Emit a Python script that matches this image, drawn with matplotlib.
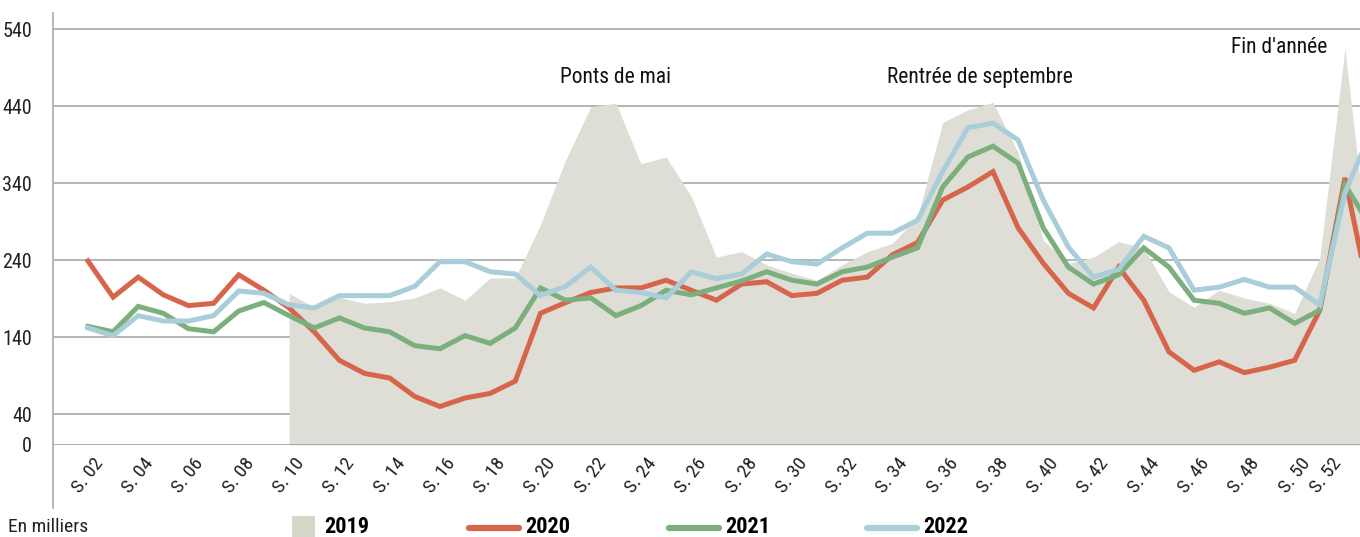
import numpy as np
import matplotlib
matplotlib.use("Agg")
import matplotlib.pyplot as plt
from matplotlib.lines import Line2D
from matplotlib.patches import Rectangle

plt.rcParams['font.family'] = ['Roboto Condensed', 'Liberation Sans Narrow', 'Roboto', 'DejaVu Sans']

# weekly volumes, in thousands
weeks = list(range(2, 54))
weeks_2019 = list(range(10, 54))

v2019 = [197, 179, 192, 184, 186, 191, 204, 188, 217, 217, 286, 370, 439, 444, 365, 374,
         323, 244, 251, 234, 223, 214, 234, 251, 262, 296, 419, 435, 445, 380, 266, 236,
         244, 264, 256, 199, 179, 201, 191, 184, 171, 243, 515, 232]
v2020 = [239, 192, 218, 195, 181, 184, 221, 201, 178, 147, 110, 93, 87, 63, 50, 61,
         67, 83, 171, 185, 198, 204, 204, 214, 201, 188, 209, 212, 194, 197, 214, 218,
         247, 263, 318, 335, 355, 282, 236, 197, 178, 231, 188, 121, 97, 108, 94, 101,
         110, 175, 347, 190]
v2021 = [154, 147, 180, 171, 151, 147, 174, 185, 168, 152, 165, 152, 147, 129, 125, 142,
         132, 152, 204, 188, 191, 168, 181, 201, 195, 204, 213, 225, 214, 209, 225, 231,
         244, 256, 335, 374, 388, 366, 282, 231, 209, 221, 256, 231, 188, 184, 171, 178,
         158, 175, 338, 285]
v2022 = [152, 142, 168, 161, 161, 168, 200, 197, 182, 178, 194, 194, 194, 206, 238, 238,
         225, 222, 194, 206, 231, 201, 198, 191, 225, 216, 222, 248, 238, 235, 256, 275,
         275, 292, 355, 412, 418, 396, 318, 257, 218, 228, 271, 256, 201, 205, 215, 205,
         205, 182, 327, 404]

xtick_weeks = list(range(2, 53, 2))
xtick_labels = ["S. %02d" % w for w in xtick_weeks]
ytick_vals = [0, 40, 140, 240, 340, 440, 540]

notes = ["Ponts de mai", "Rentrée de septembre", "Fin d'année"]
note_x = [23, 37.5, 49.4]
note_y = [477, 477, 516]

c19 = '#DFDED6'
c20 = '#D6654B'
c21 = '#7BAF7E'
c22 = '#A9CDD9'

fig = plt.figure(figsize=(13.6, 5.37), dpi=100)
ax = fig.add_axes([53 / 1360, 92 / 537, 1307 / 1360, 432 / 537])

for yv in ytick_vals[1:]:
    ax.axhline(yv, color='#A8A8A8', lw=1.2, zorder=0)

ax.fill_between(weeks_2019, v2019, 0, color=c19, lw=0, zorder=1)
ax.axhline(0, color='#A0A0A0', lw=1.2, zorder=2)

ax.plot(weeks, v2020, color=c20, lw=3.6, zorder=3, solid_joinstyle='miter')
ax.plot(weeks, v2021, color=c21, lw=3.6, zorder=4, solid_joinstyle='miter')
ax.plot(weeks, v2022, color=c22, lw=3.6, zorder=5, solid_joinstyle='miter')

ax.set_xlim(0.61, 52.6)
ax.set_ylim(0, 561)

for s in ['top', 'right', 'bottom', 'left']:
    ax.spines[s].set_visible(False)
ax.add_line(Line2D([0, 0], [-0.146, 1.0], transform=ax.transAxes, color='#B0B0B0',
                   lw=1.3, clip_on=False))

ax.set_yticks(ytick_vals)
ax.set_yticklabels([str(v) for v in ytick_vals], fontsize=14.5, color='#222222')
ax.tick_params(axis='y', length=0, pad=15)

ax.set_xticks(xtick_weeks)
xlabs = ax.set_xticklabels(xtick_labels, rotation=52, ha='center', va='top', fontsize=14,
                           color='#222222')
xlabs[-1].set_ha('right')  # keep S. 52 inside the figure
ax.tick_params(axis='x', length=0, pad=7)

for t, x, y in zip(notes, note_x, note_y):
    ax.text(x, y, t, ha='center', va='center', fontsize=15.5, color='#111111', zorder=6)

# legend, drawn by hand
fig.text(8 / 1360, 10 / 537, "En milliers", fontsize=14, color='#222222', va='center')
fig.add_artist(Rectangle((292 / 1360, 0), 23 / 1360, 21 / 537, transform=fig.transFigure,
                         color='#D5D5C8', lw=0))
fig.text(324 / 1360, 10 / 537, "2019", fontsize=16, fontweight='bold', va='center')
for x0, col, lab in [(469, c20, "2020"), (669, c21, "2021"), (867, c22, "2022")]:
    fig.add_artist(Line2D([x0 / 1360, (x0 + 50) / 1360], [9 / 537, 9 / 537],
                          transform=fig.transFigure, color=col, lw=4.5,
                          solid_capstyle='round'))
    fig.text((x0 + 56) / 1360, 10 / 537, lab, fontsize=16, fontweight='bold', va='center')

fig.savefig("out.png", dpi=100)
